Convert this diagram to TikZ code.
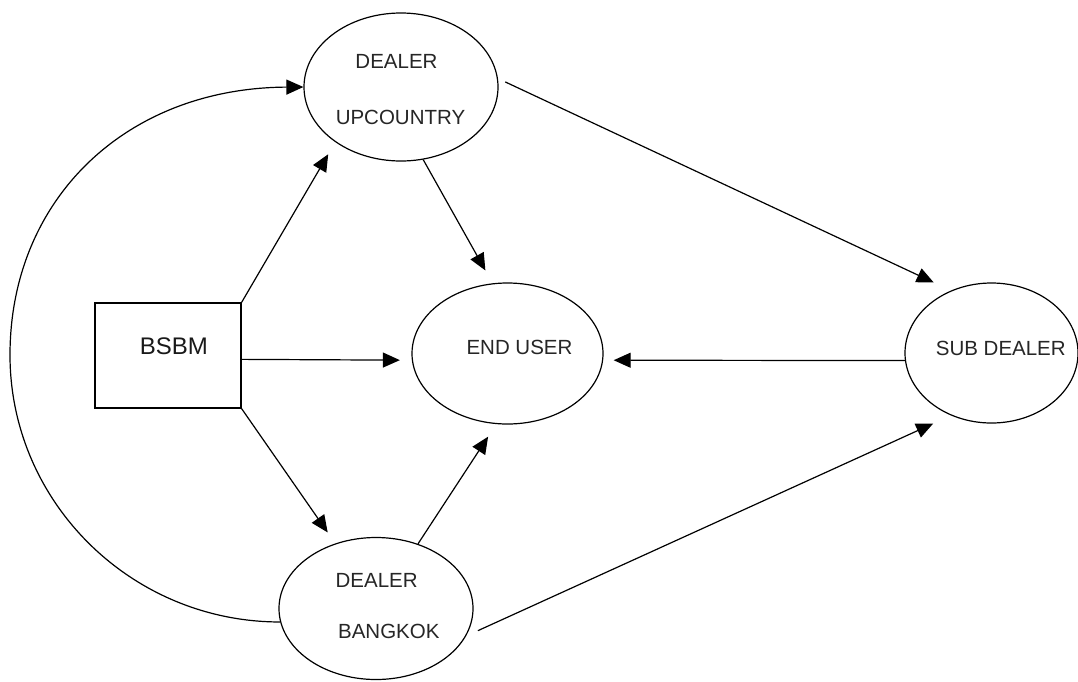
\documentclass[tikz,border=0pt]{standalone}
\usepackage{fontspec}
\setmainfont{Liberation Sans}
\usetikzlibrary{arrows.meta,shapes.geometric}
\begin{document}
\begin{tikzpicture}[x=1pt,y=-1pt,
  ell/.style={draw, ellipse, line width=1.2pt, inner sep=0pt},
  boxnode/.style={draw, rectangle, line width=1.2pt, inner sep=0pt},
  lbl/.style={inner sep=0pt, font=\fontsize{20.5}{24}\selectfont, text=black!85},
  arr/.style={-{Triangle[length=17pt,width=15pt]}, line width=1.2pt}]
\useasboundingbox (0,0) rectangle (1078,681);
% nodes
\node[ell, minimum width=194pt, minimum height=148pt] (up) at (401,87) {};
\node[ell, minimum width=191pt, minimum height=141pt] (eu) at (507.5,353.5) {};
\node[ell, minimum width=173pt, minimum height=140pt] (sd) at (991.5,353) {};
\node[ell, minimum width=194pt, minimum height=142pt] (bk) at (376,608.5) {};
\node[boxnode, minimum width=146pt, minimum height=105pt] (bsbm) at (168,355.5) {};
% labels
\node[lbl] (upt1) at (396.5,61.3) {DEALER};
\node[lbl] (upt2) at (400.5,117.2) {UPCOUNTRY};
\node[lbl] (eut) at (519.5,347.2) {END USER};
\node[lbl] (sdt) at (1000.8,348) {SUB DEALER};
\node[lbl] (bkt1) at (376.7,580.3) {DEALER};
\node[lbl] (bkt2) at (388.8,631) {BANGKOK};
\node[inner sep=0pt, font=\fontsize{24}{28}\selectfont, text=black!90] (bsbmt) at (173.8,346.5) {BSBM};
% connectors
\draw[arr, shorten >=14pt] (bsbm.north east) -- (up.220);
\draw[arr, shorten >=12pt] (bsbm.-3.5) -- (eu.184);
\draw[arr, shorten >=13.4pt] (bsbm.south east) -- (bk.122);
\draw[arr, shorten >=14.7pt] (up.-73) -- (eu.102.5);
\draw[arr, shorten <=8pt, shorten >=19pt] (up.5) -- (sd.123.5);
\draw[arr, shorten >=15pt] (bk.57) -- (eu.261.3);
\draw[arr, shorten <=13pt, shorten >=19.5pt] (bk.-17) -- (sd.237);
\draw[arr, shorten >=10.5pt] (sd.185) -- (eu.-4);
\draw[arr] (bk.188) .. controls (131,622) and (10,502) .. (10,355)
  .. controls (10,200) and (125,88) .. (up.west);
\end{tikzpicture}
\end{document}
